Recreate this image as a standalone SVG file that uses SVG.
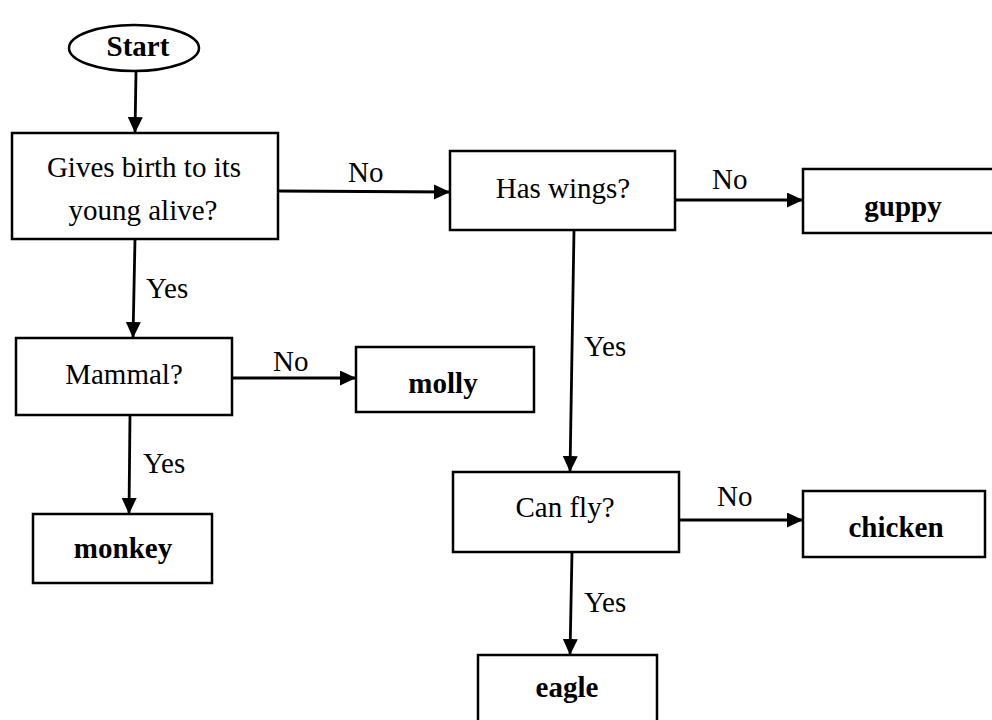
<svg xmlns="http://www.w3.org/2000/svg" width="992" height="720" viewBox="0 0 992 720">
<style>
  .box { fill: #ffffff; stroke: #000000; stroke-width: 2.5; }
  .conn { stroke: #000000; stroke-width: 2.8; fill: none; }
  .t { font-family: "Liberation Serif", "Times New Roman", serif; font-size: 29px; fill: #000000; text-anchor: middle; }
  .b { font-weight: bold; }
  .lbl { font-family: "Liberation Serif", "Times New Roman", serif; font-size: 29px; fill: #000000; }
</style>
<defs>
  <marker id="arr" markerUnits="userSpaceOnUse" markerWidth="18" markerHeight="16" refX="16" refY="7.5" orient="auto">
    <path d="M0,0 L16,7.5 L0,15 z" fill="#000000"/>
  </marker>
</defs>
<rect width="992" height="720" fill="#ffffff"/>

<g id="connectors">
  <line class="conn" x1="136" y1="72" x2="135" y2="133" marker-end="url(#arr)"/>
  <line class="conn" x1="278" y1="191" x2="450" y2="192" marker-end="url(#arr)"/>
  <text class="lbl" x="348" y="182">No</text>
  <line class="conn" x1="135" y1="239" x2="133" y2="338" marker-end="url(#arr)"/>
  <text class="lbl" x="146" y="298">Yes</text>
  <line class="conn" x1="675" y1="200" x2="803" y2="200" marker-end="url(#arr)"/>
  <text class="lbl" x="712" y="189">No</text>
  <line class="conn" x1="574" y1="230" x2="570" y2="472" marker-end="url(#arr)"/>
  <text class="lbl" x="584" y="356">Yes</text>
  <line class="conn" x1="232" y1="378" x2="356" y2="378" marker-end="url(#arr)"/>
  <text class="lbl" x="273" y="371">No</text>
  <line class="conn" x1="130" y1="415" x2="129" y2="514" marker-end="url(#arr)"/>
  <text class="lbl" x="143" y="473">Yes</text>
  <line class="conn" x1="679" y1="520" x2="803" y2="520" marker-end="url(#arr)"/>
  <text class="lbl" x="717" y="506">No</text>
  <line class="conn" x1="572" y1="552" x2="570" y2="655" marker-end="url(#arr)"/>
  <text class="lbl" x="584" y="612">Yes</text>
</g>

<g id="start">
  <ellipse class="box" cx="134" cy="48" rx="65" ry="23"/>
  <text class="t b" x="138" y="56">Start</text>
</g>
<g id="gives-birth">
  <rect class="box" x="12" y="133" width="266" height="106"/>
  <text class="t" x="144" y="177">Gives birth to its</text>
  <text class="t" x="143" y="220">young alive?</text>
</g>
<g id="has-wings">
  <rect class="box" x="450" y="151" width="225" height="79"/>
  <text class="t" x="563" y="198">Has wings?</text>
</g>
<g id="guppy">
  <rect class="box" x="803" y="169" width="200" height="64"/>
  <text class="t b" x="903" y="216">guppy</text>
</g>
<g id="mammal">
  <rect class="box" x="16" y="338" width="216" height="77"/>
  <text class="t" x="124" y="384">Mammal?</text>
</g>
<g id="molly">
  <rect class="box" x="356" y="347" width="178" height="65"/>
  <text class="t b" x="443" y="393">molly</text>
</g>
<g id="monkey">
  <rect class="box" x="33" y="514" width="179" height="69"/>
  <text class="t b" x="123" y="558">monkey</text>
</g>
<g id="can-fly">
  <rect class="box" x="453" y="472" width="226" height="80"/>
  <text class="t" x="565" y="517">Can fly?</text>
</g>
<g id="chicken">
  <rect class="box" x="803" y="491" width="182" height="66"/>
  <text class="t b" x="896" y="537">chicken</text>
</g>
<g id="eagle">
  <rect class="box" x="478" y="655" width="179" height="80"/>
  <text class="t b" x="567" y="697">eagle</text>
</g>
</svg>
